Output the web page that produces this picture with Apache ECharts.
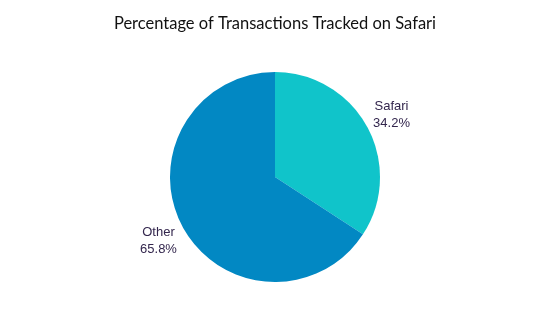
<!DOCTYPE html>
<html>
<head>
<meta charset="utf-8">
<script src="https://cdn.jsdelivr.net/npm/echarts@6/dist/echarts.min.js"></script>
<style>
html,body{margin:0;padding:0;background:#fff;}
#chart{width:550px;height:314px;}
</style>
</head>
<body>
<div id="chart"></div>
<script>
const titleText = 'Percentage of Transactions Tracked on Safari';
const categories = ['Safari', 'Other'];
const values = [34.2, 65.8];
const colors = ['#10c4ca', '#0288c3'];

const pieData = categories.map((c, i) => ({ name: c, value: values[i], itemStyle: { color: colors[i] } }));
const labelData = categories.map((c, i) => ({ name: c, value: values[i] }));

const chart = echarts.init(document.getElementById('chart'), null, { renderer: 'canvas' });
chart.setOption({
  animation: false,
  backgroundColor: '#ffffff',
  title: {
    text: titleText,
    left: 'center',
    top: 10,
    textStyle: { fontFamily: 'Lato', fontSize: 16.5, fontWeight: 'normal', color: '#111111' }
  },
  series: [
    {
      type: 'pie',
      center: ['50%', 177],
      radius: [0, 105],
      startAngle: 90,
      clockwise: true,
      label: { show: false },
      labelLine: { show: false },
      itemStyle: { borderWidth: 0 },
      silent: true,
      data: pieData
    },
    {
      type: 'pie',
      center: ['50%', 178],
      radius: [105, 154],
      startAngle: 90,
      clockwise: true,
      silent: true,
      itemStyle: { color: 'rgba(0,0,0,0)', borderWidth: 0 },
      label: {
        show: true,
        position: 'inside',
        formatter: p => p.name + '\n' + p.value.toFixed(1) + '%',
        fontFamily: 'Liberation Sans',
        fontSize: 13,
        lineHeight: 17,
        color: '#33264d'
      },
      labelLine: { show: false },
      data: labelData
    }
  ]
});
</script>
</body>
</html>
